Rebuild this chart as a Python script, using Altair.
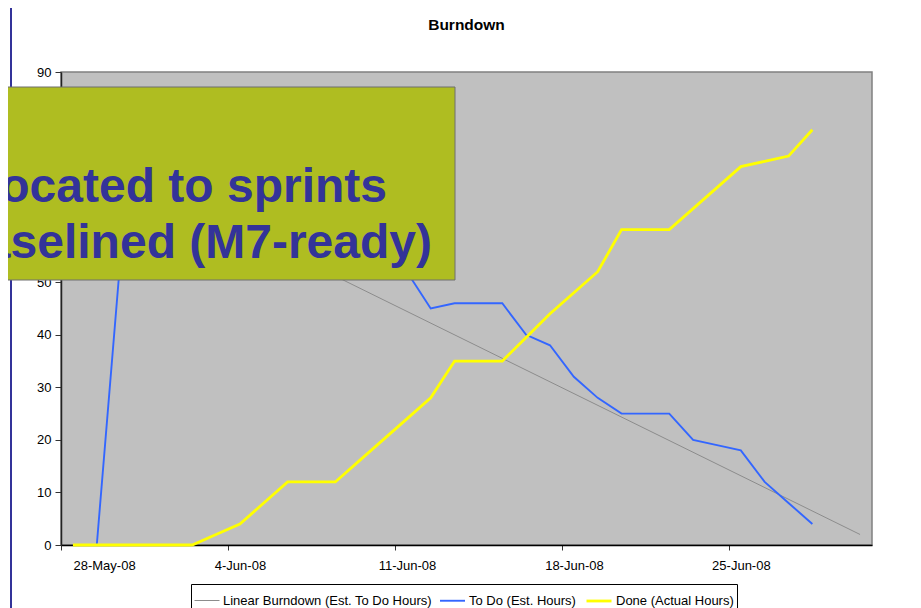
import altair as alt
import pandas as pd

FONT = "Liberation Sans"

# ---- data ----
dates = [
    "2008-05-28", "2008-05-29", "2008-05-30", "2008-05-31", "2008-06-01", "2008-06-02",
    "2008-06-03", "2008-06-04", "2008-06-05", "2008-06-06", "2008-06-07", "2008-06-08",
    "2008-06-09", "2008-06-10", "2008-06-11", "2008-06-12", "2008-06-13", "2008-06-14",
    "2008-06-15", "2008-06-16", "2008-06-17", "2008-06-18", "2008-06-19", "2008-06-20",
    "2008-06-21", "2008-06-22", "2008-06-23", "2008-06-24", "2008-06-25", "2008-06-26",
    "2008-06-27", "2008-06-28",
]
todo = [None, 0, 55, 58, 60, 62, 62, 60, 60, 58, 57, 56, 55, 54, 52, 45,
        46, 46, 46, 40, 38, 32, 28, 25, 25, 25, 20, 19, 18, 12, 8, 4]
done = [0, 0, 0, 0, 0, 0, 2, 4, 8, 12, 12, 12, 16, 20, 24, 28,
        35, 35, 35, 39.5, 44, 48, 52, 60, 60, 60, 64, 68, 72, 73, 74, 79]
linear_dates = ["2008-05-29", "2008-06-30"]
linear_vals = [73.5, 2.0]

series_names = ["Linear Burndown (Est. To Do Hours)", "To Do (Est. Hours)", "Done (Actual Hours)"]
series_colors = ["#8C8C8C", "#3366FF", "#FFFF00"]
series_widths = [1, 2.8, 2.8]

y_ticks = [0, 10, 20, 30, 40, 50, 60, 70, 80, 90]
x_tick_dates = [(2008, 5, 28), (2008, 6, 4), (2008, 6, 11), (2008, 6, 18), (2008, 6, 25)]

title_text = "Burndown"
note_lines = ["located to sprints", "baselined (M7-ready)"]

# ---- build long table ----
rows = []
for d, v in zip(linear_dates, linear_vals):
    rows.append({"date": d + "T12:00:00", "value": v, "series": series_names[0]})
for d, v in zip(dates, todo):
    if v is not None:
        rows.append({"date": d + "T12:00:00", "value": v, "series": series_names[1]})
for d, v in zip(dates, done):
    rows.append({"date": d + "T12:00:00", "value": v, "series": series_names[2]})
df = pd.DataFrame(rows)

legend = alt.Legend(
    orient="none", legendX=130, legendY=512, direction="horizontal", title=None,
    fillColor="white", strokeColor="black", padding=3,
    symbolType="stroke", symbolSize=625, symbolStrokeWidth=2.5,
    labelFontSize=13, labelFont=FONT, labelColor="black", labelOffset=3,
    labelLimit=400, columnPadding=4,
)

x_axis = alt.Axis(
    values=[alt.DateTime(year=y, month=m, date=d) for (y, m, d) in x_tick_dates],
    format="%-d-%b-%y", tickSize=5, labelPadding=9, labelOffset=12, labelAngle=0,
    labelFontSize=13, labelFont=FONT, labelColor="black", grid=False, title=None,
    domainColor="black", domainWidth=1.5, tickColor="#333333", labelOverlap=False,
)
y_axis = alt.Axis(
    values=y_ticks, tickSize=6, labelPadding=4, labelFontSize=13, labelFont=FONT,
    labelColor="black", grid=False, title=None, domainColor="#222222", domainWidth=1.5,
    tickColor="#333333",
)

lines = alt.Chart(df).mark_line().encode(
    x=alt.X("date:T", axis=x_axis,
            scale=alt.Scale(domain=[alt.DateTime(year=2008, month=5, date=28),
                                    alt.DateTime(year=2008, month=7, date=1)])),
    y=alt.Y("value:Q", axis=y_axis, scale=alt.Scale(domain=[0, 90], nice=False)),
    color=alt.Color("series:N", scale=alt.Scale(domain=series_names, range=series_colors),
                    legend=legend),
    strokeWidth=alt.StrokeWidth("series:N",
                                scale=alt.Scale(domain=series_names, range=series_widths),
                                legend=legend),
    detail="series:N",
)

anno = pd.DataFrame({"k": [0]})
title_mark = alt.Chart(anno).mark_text(
    align="center", baseline="alphabetic", fontSize=15.5, fontWeight="bold", font=FONT,
    color="black"
).encode(x=alt.value(405.5), y=alt.value(-42), text=alt.value(title_text))
side_rule = alt.Chart(anno).mark_rule(color="#333399", strokeWidth=2).encode(
    x=alt.value(-50), y=alt.value(-64), y2=alt.value(545)
)
box = alt.Chart(anno).mark_rect(color="#AFBD21", stroke="#6E6E6E", strokeWidth=1).encode(
    x=alt.value(-70), x2=alt.value(394), y=alt.value(15), y2=alt.value(208)
)
text1 = alt.Chart(anno).mark_text(
    align="right", baseline="alphabetic", fontSize=48, fontWeight="bold", font=FONT,
    color="#333399"
).encode(x=alt.value(326), y=alt.value(130), text=alt.value(note_lines[0]))
text2 = alt.Chart(anno).mark_text(
    align="right", baseline="alphabetic", fontSize=48, fontWeight="bold", font=FONT,
    color="#333399"
).encode(x=alt.value(371), y=alt.value(186), text=alt.value(note_lines[1]))

chart = alt.layer(lines, title_mark, side_rule, box, text1, text2).properties(
    width=811, height=473,
    autosize=alt.AutoSizeParams(type="none"),
    padding={"left": 53, "top": 64, "right": 41, "bottom": 63},
    background="white",
).configure_view(
    fill="#C0C0C0", stroke="#808080", strokeWidth=1.5
)

chart.save("out.html", embed_options={"renderer": "svg", "actions": False})
